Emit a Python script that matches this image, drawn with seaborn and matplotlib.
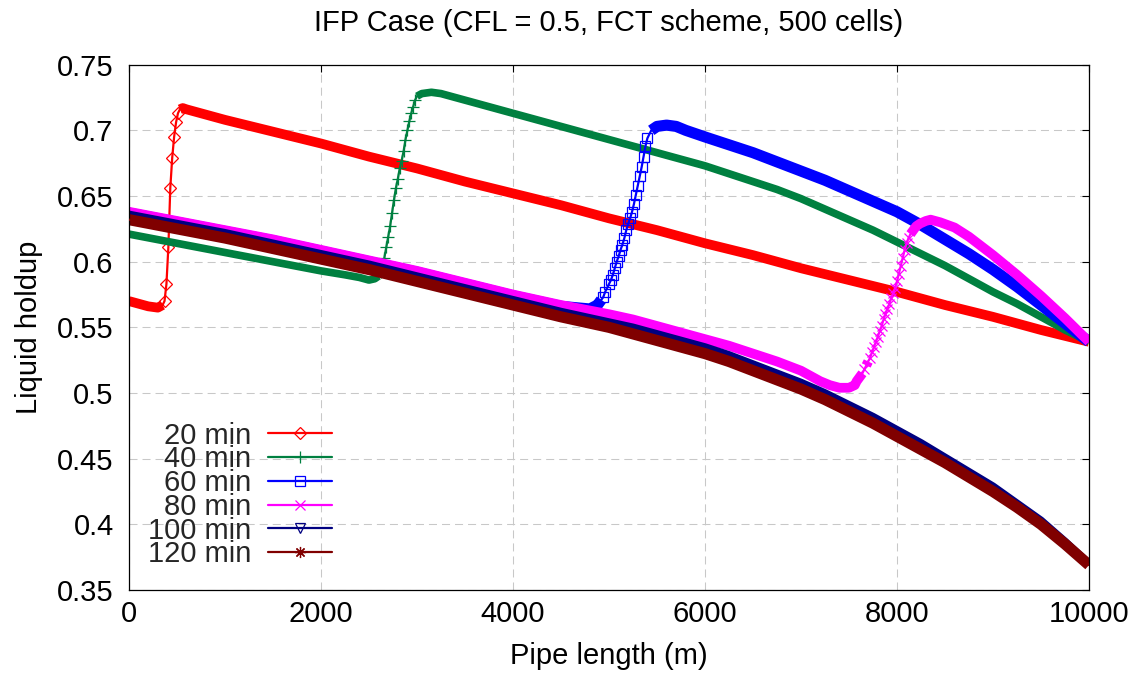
import numpy as np
import matplotlib
matplotlib.use("Agg")
import matplotlib.pyplot as plt
from matplotlib.lines import Line2D
import seaborn as sns

# ---------------- data ----------------
x_20 = [0, 100, 200, 300, 350, 370, 390, 410, 430, 450, 470, 490, 510, 530, 560, 600,
        1000, 1500, 2000, 2500, 3000, 3500, 4000, 4500, 5000, 5500, 6000, 6500, 7000,
        7500, 8000, 8500, 9000, 9500, 10000]
y_20 = [0.570, 0.568, 0.566, 0.565, 0.567, 0.570, 0.583, 0.611, 0.656, 0.679, 0.695, 0.706,
        0.713, 0.716, 0.717, 0.716,
        0.708, 0.699, 0.690, 0.680, 0.671, 0.661, 0.652, 0.643, 0.633, 0.624, 0.614, 0.605,
        0.595, 0.586, 0.577, 0.567, 0.558, 0.548, 0.539]

x_40 = [0, 500, 1000, 1500, 2000, 2250, 2400, 2500, 2560, 2600, 2620, 2640, 2660, 2680, 2700,
        2720, 2740, 2760, 2780, 2800, 2820, 2840, 2860, 2880, 2900, 2920, 2940, 2960, 2980,
        3000, 3050, 3150, 3250, 3500, 3750, 4000, 4250, 4500, 4750, 5000, 5250, 5500, 5750,
        6000, 6250, 6500, 6750, 7000, 7250, 7500, 7750, 8000, 8250, 8500, 8750, 9000, 9250,
        9500, 9750, 10000]
y_40 = [0.621, 0.614, 0.607, 0.600, 0.593, 0.590, 0.588, 0.586, 0.587, 0.589, 0.592, 0.597,
        0.603, 0.611, 0.619, 0.627, 0.637, 0.647, 0.656, 0.663, 0.671, 0.677, 0.684, 0.693,
        0.700, 0.707, 0.713, 0.718, 0.723, 0.726, 0.728, 0.729, 0.728, 0.723, 0.718, 0.713,
        0.708, 0.703, 0.698, 0.693, 0.688, 0.683, 0.678, 0.673, 0.667, 0.661, 0.655, 0.648,
        0.640, 0.632, 0.624, 0.615, 0.606, 0.597, 0.587, 0.577, 0.568, 0.558, 0.548, 0.539]

x_60 = [0, 500, 1000, 1500, 2000, 2500, 3000, 3500, 4000, 4500, 4800, 4880, 4900, 4920, 4940,
        4960, 4980, 5000, 5020, 5040, 5060, 5080, 5100, 5120, 5140, 5160, 5180, 5200, 5220,
        5240, 5260, 5280, 5300, 5320, 5340, 5360, 5380, 5400, 5440, 5500, 5600, 5700, 5800,
        6000, 6250, 6500, 6750, 7000, 7250, 7500, 7750, 8000, 8250, 8500, 8750, 9000, 9250,
        9500, 9750, 10000]
y_60 = [0.637, 0.630, 0.623, 0.616, 0.608, 0.600, 0.592, 0.583, 0.574, 0.566, 0.564, 0.567,
        0.569, 0.571, 0.573, 0.577, 0.580, 0.583, 0.586, 0.590, 0.595, 0.600, 0.604, 0.609,
        0.613, 0.618, 0.624, 0.629, 0.633, 0.638, 0.644, 0.651, 0.658, 0.665, 0.672, 0.680,
        0.688, 0.694, 0.700, 0.703, 0.704, 0.703, 0.700, 0.695, 0.689, 0.683, 0.676, 0.669,
        0.662, 0.654, 0.646, 0.638, 0.628, 0.617, 0.606, 0.594, 0.581, 0.567, 0.553, 0.539]

x_80 = [0, 500, 1000, 1500, 2000, 2500, 3000, 3500, 4000, 4500, 5000, 5250, 5500, 5750, 6000,
        6250, 6500, 6750, 7000, 7100, 7200, 7300, 7400, 7500, 7560, 7580, 7600, 7620, 7640,
        7660, 7680, 7700, 7720, 7740, 7760, 7780, 7800, 7820, 7840, 7860, 7880, 7900, 7920,
        7940, 7960, 7980, 8000, 8020, 8040, 8060, 8080, 8100, 8120, 8140, 8160, 8180, 8200,
        8240, 8300, 8350, 8450, 8600, 8750, 9000, 9250, 9500, 9750, 10000]
y_80 = [0.638, 0.631, 0.624, 0.617, 0.609, 0.601, 0.593, 0.584, 0.575, 0.567, 0.560, 0.556,
        0.551, 0.546, 0.541, 0.536, 0.530, 0.524, 0.517, 0.513, 0.509, 0.506, 0.504, 0.504,
        0.506, 0.509, 0.511, 0.513, 0.515, 0.518, 0.521, 0.524, 0.527, 0.531, 0.535, 0.539,
        0.543, 0.547, 0.551, 0.556, 0.560, 0.564, 0.568, 0.572, 0.576, 0.580, 0.585, 0.591,
        0.597, 0.603, 0.609, 0.614, 0.618, 0.621, 0.623, 0.625, 0.627, 0.629, 0.631, 0.632,
        0.630, 0.626, 0.619, 0.605, 0.590, 0.574, 0.557, 0.539]

x_100 = [0, 500, 1000, 1500, 2000, 2500, 3000, 3500, 4000, 4500, 5000, 5250, 5500, 5750, 6000,
         6250, 6500, 6750, 7000, 7250, 7500, 7750, 8000, 8250, 8500, 8750, 9000, 9250, 9500,
         9750, 10000]
y_100 = [0.636, 0.629, 0.622, 0.614, 0.606, 0.598, 0.589, 0.580, 0.571, 0.562, 0.554, 0.550,
         0.545, 0.540, 0.535, 0.529, 0.522, 0.515, 0.508, 0.500, 0.491, 0.482, 0.472, 0.462,
         0.451, 0.440, 0.429, 0.416, 0.403, 0.387, 0.370]

x_120 = [0, 500, 1000, 1500, 2000, 2500, 3000, 3500, 4000, 4500, 5000, 5250, 5500, 5750, 6000,
         6250, 6500, 6750, 7000, 7250, 7500, 7750, 8000, 8250, 8500, 8750, 9000, 9250, 9500,
         9750, 10000]
y_120 = [0.632, 0.625, 0.618, 0.610, 0.602, 0.594, 0.585, 0.576, 0.567, 0.558, 0.550, 0.545,
         0.540, 0.535, 0.530, 0.524, 0.517, 0.510, 0.503, 0.495, 0.486, 0.477, 0.467, 0.457,
         0.447, 0.436, 0.425, 0.413, 0.400, 0.385, 0.369]

labels = ["20 min", "40 min", "60 min", "80 min", "100 min", "120 min"]
x_ticks = [0, 2000, 4000, 6000, 8000, 10000]
x_tick_labels = ["0", "2000", "4000", "6000", "8000", "10000"]
y_ticks = [0.35, 0.40, 0.45, 0.50, 0.55, 0.60, 0.65, 0.70, 0.75]
y_tick_labels = ["0.35", "0.4", "0.45", "0.5", "0.55", "0.6", "0.65", "0.7", "0.75"]

# ---------------- style ----------------
sns.set_theme(style="white")
plt.rcParams["font.family"] = ["Liberation Sans", "DejaVu Sans"]
FS = 21

series = [
    (x_20, y_20, "#ff0000", "D", 6.0, 7.0),
    (x_40, y_40, "#008040", "+", 8.0, 5.5),
    (x_60, y_60, "#0000ff", "s", 7.0, 8.0),
    (x_80, y_80, "#ff00ff", "x", 6.5, 7.0),
    (x_100, y_100, "#000080", "v", 6.5, 5.5),
    (x_120, y_120, "#800000", (8, 2, 0), 8.0, 8.0),
]

fig = plt.figure(figsize=(11.35, 6.77), dpi=100)
ax = fig.add_axes([129 / 1135, 1 - 590 / 677, 960 / 1135, (590 - 64.7) / 677])

handles = []
for i, ((xs, ys, col, mk, ms, band_w), lab) in enumerate(zip(series, labels)):
    xa = np.asarray(xs, dtype=float)
    ya = np.asarray(ys, dtype=float)
    steep = np.abs(np.gradient(ya, xa)) > 1.5e-4
    band = np.where(steep, np.nan, ya)
    z = 2 + 0.1 * i
    # dense-marker band of the original (a marker at every cell)
    ax.plot(xa, band, color=col, lw=band_w, solid_capstyle="butt",
            solid_joinstyle="round", zorder=z)
    sns.lineplot(x=xa, y=ya, ax=ax, color=col, lw=1.6, marker=mk, markersize=ms,
                 markerfacecolor="none", markeredgecolor=col, markeredgewidth=0.9,
                 markevery=list(np.nonzero(steep)[0]), sort=False, zorder=z + 0.05,
                 legend=False)
    handles.append(Line2D([], [], color=col, lw=1.6, marker=mk, markersize=ms,
                          markerfacecolor="none", markeredgecolor=col,
                          markeredgewidth=0.9, label=lab))

ax.set_xlim(0, 10000)
ax.set_ylim(0.35, 0.75)
ax.set_xticks(x_ticks)
ax.set_xticklabels(x_tick_labels)
ax.set_yticks(y_ticks)
ax.set_yticklabels(y_tick_labels)
ax.tick_params(axis="both", which="major", direction="in", length=5, width=0.8,
               top=True, right=True, labelsize=FS, color="black", labelcolor="black")
ax.tick_params(axis="x", pad=7)
ax.tick_params(axis="y", pad=11)
ax.grid(True, color="#c8c8c8", lw=0.75, ls=(0, (7.7, 4.8)))
ax.set_axisbelow(True)
for sp in ax.spines.values():
    sp.set_color("black")
    sp.set_linewidth(0.9)

ax.set_xlabel("Pipe length (m)", fontsize=FS, labelpad=10, color="black")
ax.set_ylabel("Liquid holdup", fontsize=FS, labelpad=10, color="black")
ax.set_title("IFP Case (CFL = 0.5, FCT scheme, 500 cells)", fontsize=FS, pad=24, color="black")

leg = ax.legend(handles=handles, loc="lower left", bbox_to_anchor=(0.02, 0.041),
                frameon=False, markerfirst=False, numpoints=1, fontsize=FS,
                handlelength=2.2, handletextpad=0.55, labelspacing=-0.145,
                borderpad=0.0, borderaxespad=0.0)

fig.savefig("out.png", dpi=100)
